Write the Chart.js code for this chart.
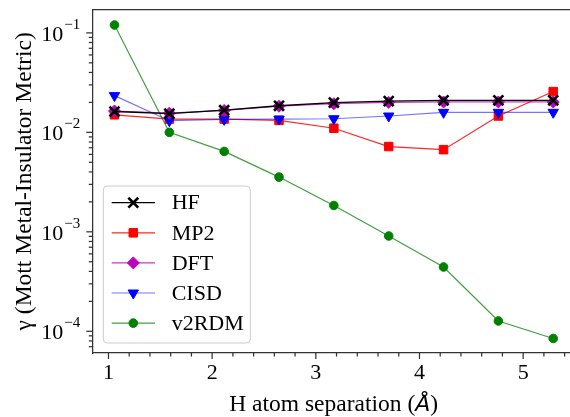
<!DOCTYPE html>
<html>
<head>
<meta charset="utf-8">
<script src="https://cdn.jsdelivr.net/npm/chart.js@4.4.0/dist/chart.umd.min.js"></script>
<style>
  html, body { margin: 0; padding: 0; background: #fff; overflow: hidden; }
  #wrap { position: relative; width: 585px; height: 417px; }
</style>
</head>
<body>
<div id="wrap"><canvas id="chart" width="585" height="417"></canvas></div>
<script>
// H atom separations (Angstrom)
const separations = [1.058, 1.587, 2.116, 2.645, 3.174, 3.703, 4.232, 4.761, 5.290];

// gamma values per method
const hfValues    = [0.0162, 0.0154, 0.0167, 0.0185, 0.0199, 0.0206, 0.0210, 0.0210, 0.0210];
const mp2Values   = [0.0150, 0.0136, 0.0136, 0.0132, 0.0110, 0.0072, 0.0067, 0.0146, 0.0257];
const dftValues   = [0.0164, 0.0156, 0.0166, 0.0183, 0.0194, 0.0200, 0.0202, 0.0202, 0.0202];
const cisdValues  = [0.0234, 0.0131, 0.0135, 0.0136, 0.0137, 0.0146, 0.0159, 0.0159, 0.0159];
const v2rdmValues = [0.120, 0.0100, 0.00643, 0.00355, 0.00184, 0.000908, 0.000443, 0.000127, 0.0000847];

const xTickValues = [1, 2, 3, 4, 5];
const yDecades = [-4, -3, -2, -1];

const SERIF = '"Liberation Serif", "Times New Roman", serif';

const pts = vals => vals.map((v, i) => ({ x: separations[i], y: v }));

function series(label, vals, line, marker, style, radius, extra) {
    return Object.assign({
        label: label,
        data: pts(vals),
        borderColor: line,
        borderWidth: 1.2,
        pointStyle: style,
        pointRadius: radius,
        pointBackgroundColor: marker,
        pointBorderColor: marker,
        pointBorderWidth: 1,
        tension: 0
    }, extra || {});
}

const datasets = [
    series('HF', hfValues, '#000000', '#000000', 'crossRot', 7, { pointBorderWidth: 2.6, borderWidth: 1.3, order: 0 }),
    series('MP2', mp2Values, 'rgba(255,0,0,0.85)', '#ff0000', 'rect', 6, { order: 3 }),
    series('DFT', dftValues, 'rgba(191,0,191,0.8)', '#bf00bf', 'rectRot', 6, { order: 1 }),
    series('CISD', cisdValues, 'rgba(0,0,255,0.55)', '#0000ff', 'triangle', 6, { pointRotation: 180, order: 2 }),
    series('v2RDM', v2rdmValues, 'rgba(0,128,0,0.75)', '#008000', 'circle', 4.3, { order: 4 })
];

function drawMarker(ctx, ds, x, y) {
    const opts = {
        pointStyle: ds.pointStyle,
        radius: ds.pointRadius,
        rotation: ds.pointRotation || 0,
        borderWidth: ds.pointBorderWidth
    };
    ctx.fillStyle = ds.pointBackgroundColor;
    ctx.strokeStyle = ds.pointBorderColor;
    ctx.lineWidth = ds.pointBorderWidth;
    Chart.helpers.drawPoint(ctx, opts, x, y);
}

const decor = {
    id: 'decor',
    afterDraw(chart) {
        const ctx = chart.ctx;
        const ca = chart.chartArea;
        const xs = chart.scales.x;
        const ys = chart.scales.y;
        ctx.save();
        ctx.strokeStyle = '#333';
        ctx.lineWidth = 1.25;

        // top spine
        ctx.beginPath();
        ctx.moveTo(ca.left, ca.top);
        ctx.lineTo(ca.right, ca.top);
        ctx.stroke();

        // x ticks (major + minor every 0.2)
        for (let i = 4; i <= 28; i++) {
            const v = i / 5;
            if (v < xs.min || v > xs.max) continue;
            const px = xs.getPixelForValue(v);
            const len = (i % 5 === 0) ? 6 : 3.5;
            ctx.beginPath();
            ctx.moveTo(px, ca.bottom);
            ctx.lineTo(px, ca.bottom + len);
            ctx.stroke();
        }

        // y ticks (log, major + minor) and labels
        ctx.fillStyle = '#000';
        for (const e of yDecades.concat([-5, 0])) {
            for (let m = 1; m <= 9; m++) {
                const v = m * Math.pow(10, e);
                if (v < ys.min || v > ys.max) continue;
                const py = ys.getPixelForValue(v);
                const len = m === 1 ? 6 : 3.5;
                ctx.beginPath();
                ctx.moveTo(ca.left - len, py);
                ctx.lineTo(ca.left, py);
                ctx.stroke();
            }
        }
        for (const e of yDecades) {
            const py = ys.getPixelForValue(Math.pow(10, e));
            const sup = '\u2212' + Math.abs(e);
            ctx.textAlign = 'right';
            ctx.textBaseline = 'alphabetic';
            ctx.font = '15px ' + SERIF;
            const supRight = ca.left - 12;
            const supW = ctx.measureText(sup).width;
            ctx.fillText(sup, supRight, py - 4);
            ctx.font = '22px ' + SERIF;
            ctx.fillText('10', supRight - supW - 1, py + 8);
        }

        // y axis title
        ctx.save();
        ctx.translate(25, (ca.top + ca.bottom) / 2);
        ctx.rotate(-Math.PI / 2);
        ctx.textAlign = 'center';
        ctx.textBaseline = 'middle';
        ctx.font = '23.5px ' + SERIF;
        ctx.fillText('\u03b3 (Mott Metal-Insulator Metric)', 0, 0);
        ctx.restore();

        // x axis title with italic Angstrom
        const p1 = 'H atom separation (', p2 = '\u00c5', p3 = ')';
        const f1 = '23.5px ' + SERIF, f2 = 'italic 22px "DejaVu Sans"';
        ctx.textAlign = 'left';
        ctx.textBaseline = 'alphabetic';
        ctx.font = f1;
        const w1 = ctx.measureText(p1).width, w3 = ctx.measureText(p3).width;
        ctx.font = f2;
        const w2 = ctx.measureText(p2).width;
        let tx = (ca.left + ca.right) / 2 - (w1 + w2 + w3) / 2;
        const ty = 411;
        ctx.font = f1; ctx.fillText(p1, tx, ty); tx += w1;
        ctx.font = f2; ctx.fillText(p2, tx, ty); tx += w2;
        ctx.font = f1; ctx.fillText(p3, tx, ty);

        // legend
        const bw = 147, bh = 157;
        const bx = ca.left + 11, by = ca.bottom - 10 - bh;
        ctx.beginPath();
        ctx.roundRect(bx, by, bw, bh, 4);
        ctx.fillStyle = 'rgba(255,255,255,0.8)';
        ctx.fill();
        ctx.strokeStyle = '#cccccc';
        ctx.lineWidth = 1;
        ctx.stroke();
        chart.data.datasets.forEach((ds, i) => {
            const ry = by + 16.7 + i * 30.1;
            ctx.strokeStyle = ds.borderColor;
            ctx.lineWidth = ds.borderWidth;
            ctx.beginPath();
            ctx.moveTo(bx + 8.4, ry);
            ctx.lineTo(bx + 51.7, ry);
            ctx.stroke();
            drawMarker(ctx, ds, bx + 30, ry);
            ctx.fillStyle = '#000';
            ctx.font = '22px ' + SERIF;
            ctx.textAlign = 'left';
            ctx.textBaseline = 'middle';
            ctx.fillText(ds.label, bx + 68.4, ry + 1);
        });
        ctx.restore();
    }
};

new Chart(document.getElementById('chart'), {
    type: 'line',
    data: { datasets: datasets },
    options: {
        responsive: false,
        animation: false,
        devicePixelRatio: 1,
        layout: { padding: { top: 9, right: 10, left: 0, bottom: 0 } },
        plugins: { legend: { display: false }, tooltip: { enabled: false } },
        scales: {
            x: {
                type: 'linear',
                min: 0.844,
                max: 5.5,
                afterFit: s => { s.height = 64; },
                afterBuildTicks: s => { s.ticks = xTickValues.map(v => ({ value: v })); },
                grid: { display: false, drawTicks: true, tickLength: 6 },
                border: { display: true, color: '#333', width: 1.25 },
                ticks: {
                    font: { family: SERIF, size: 22 },
                    color: '#000',
                    padding: 1,
                    maxRotation: 0
                }
            },
            y: {
                type: 'logarithmic',
                min: 6.05e-5,
                max: 0.1714,
                afterFit: s => { s.width = 92.3; },
                grid: { display: false },
                border: { display: true, color: '#333', width: 1.25 },
                ticks: { display: false }
            }
        }
    },
    plugins: [decor]
});
</script>
</body>
</html>
